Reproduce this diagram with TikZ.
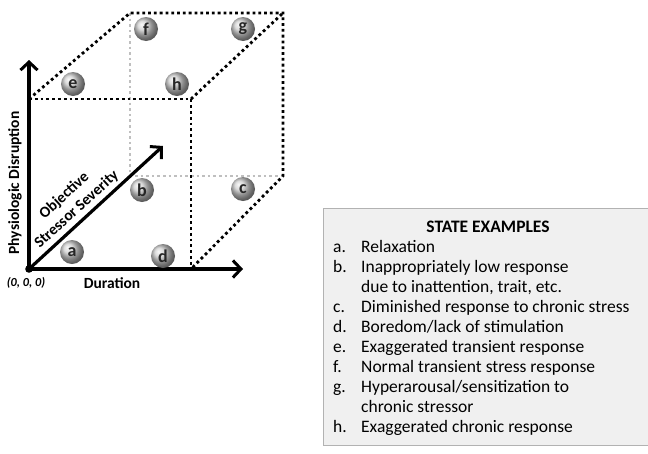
\documentclass[tikz,border=0pt]{standalone}
\usepackage{fontspec}
\setmainfont{Carlito}
\usetikzlibrary{arrows.meta}
\begin{document}
\begin{tikzpicture}[x=1pt,y=-1pt,
  axis/.style={line width=3.2pt, line cap=round,
    -{Straight Barb[length=8pt,width=17pt,line width=3pt]}},
  blackdot/.style={line width=2.8pt, dash pattern=on 2.8pt off 3pt},
  graydot/.style={gray!50, line width=2.6pt, dash pattern=on 2.6pt off 3pt},
  ball/.style={circle, minimum size=24pt, inner sep=0pt, shading=ball,
    ball color=gray!38, text=black!85,
    font=\bfseries\fontsize{18}{18}\selectfont},
  axlabel/.style={font=\bfseries\fontsize{15.5}{18.5}\selectfont, inner sep=0pt},
  legtext/.style={font=\fontsize{17.5}{20}\selectfont, anchor=base west, inner sep=0pt},
  legbox/.style={draw=gray!60, fill=gray!12, line width=0.8pt}
]
\useasboundingbox (0,0) rectangle (648,453);

% cube corners
\coordinate (O) at (29,269);
\coordinate (FTL) at (29,99);
\coordinate (FTR) at (191,99);
\coordinate (FBR) at (191,269);
\coordinate (BTL) at (130,13);
\coordinate (BTR) at (283,13);
\coordinate (BBL) at (130,176);
\coordinate (BBR) at (283,176);
\coordinate (Ytip) at (29,60);
\coordinate (Xtip) at (243,269);
\coordinate (Ztip) at (163,146);

% hidden edges
\draw[graydot] (BTL) -- (BBL) -- (BBR);
% visible dotted edges
\draw[blackdot] (FTL) -- (FTR) -- (FBR);
\draw[blackdot] (FTL) -- (BTL) -- (BTR) -- (BBR) -- (FBR);
\draw[blackdot] (FTR) -- (BTR);

% axes
\draw[axis] (O) -- (Ytip);
\draw[axis] (O) -- (Xtip);
\draw[axis] (O) -- (Ztip);
\fill (O) circle (3.8);

% axis labels
\node[axlabel, rotate=90] (ylab) at (15,183) {Physiologic Disruption};
\node[axlabel] (xlab) at (112,283) {Duration};
\node[font=\bfseries\itshape\fontsize{12.3}{13}\selectfont, inner sep=0pt] (olab) at (26,283) {(0, 0, 0)};
\node[axlabel, rotate=42.3, align=center] (zlab) at (70.5,202.5) {Objective\\Stressor Severity};

% state balls
\node[ball] (a) at (72,252) {a};
\node[ball] (d) at (163,256) {d};
\node[ball] (b) at (142,190) {b};
\node[ball] (c) at (243,189) {c};
\node[ball] (e) at (73,84) {e};
\node[ball] (h) at (177,84) {h};
\node[ball] (f) at (146,29) {f};
\node[ball] (g) at (243,29) {g};

% legend
\draw[legbox] (700,208) -- (323,208) -- (323,445) -- (700,445);
\node[font=\bfseries\fontsize{17.5}{20}\selectfont, anchor=base, inner sep=0pt] (title) at (488,232) {STATE EXAMPLES};
\node[legtext] (ka) at (333,252) {a.};
\node[legtext] (ta) at (361,252) {Relaxation};
\node[legtext] (kb) at (333,272) {b.};
\node[legtext] (tb) at (361,272) {Inappropriately low response};
\node[legtext] (tb2) at (361,292) {due to inattention, trait, etc.};
\node[legtext] (kc) at (333,312) {c.};
\node[legtext] (tc) at (361,312) {Diminished response to chronic stress};
\node[legtext] (kd) at (333,332) {d.};
\node[legtext] (td) at (361,332) {Boredom/lack of stimulation};
\node[legtext] (ke) at (333,352) {e.};
\node[legtext] (te) at (361,352) {Exaggerated transient response};
\node[legtext] (kf) at (333,372) {f.};
\node[legtext] (tf) at (361,372) {Normal transient stress response};
\node[legtext] (kg) at (333,392) {g.};
\node[legtext] (tg) at (361,392) {Hyperarousal/sensitization to};
\node[legtext] (tg2) at (361,412) {chronic stressor};
\node[legtext] (kh) at (333,432) {h.};
\node[legtext] (th) at (361,432) {Exaggerated chronic response};
\end{tikzpicture}
\end{document}
